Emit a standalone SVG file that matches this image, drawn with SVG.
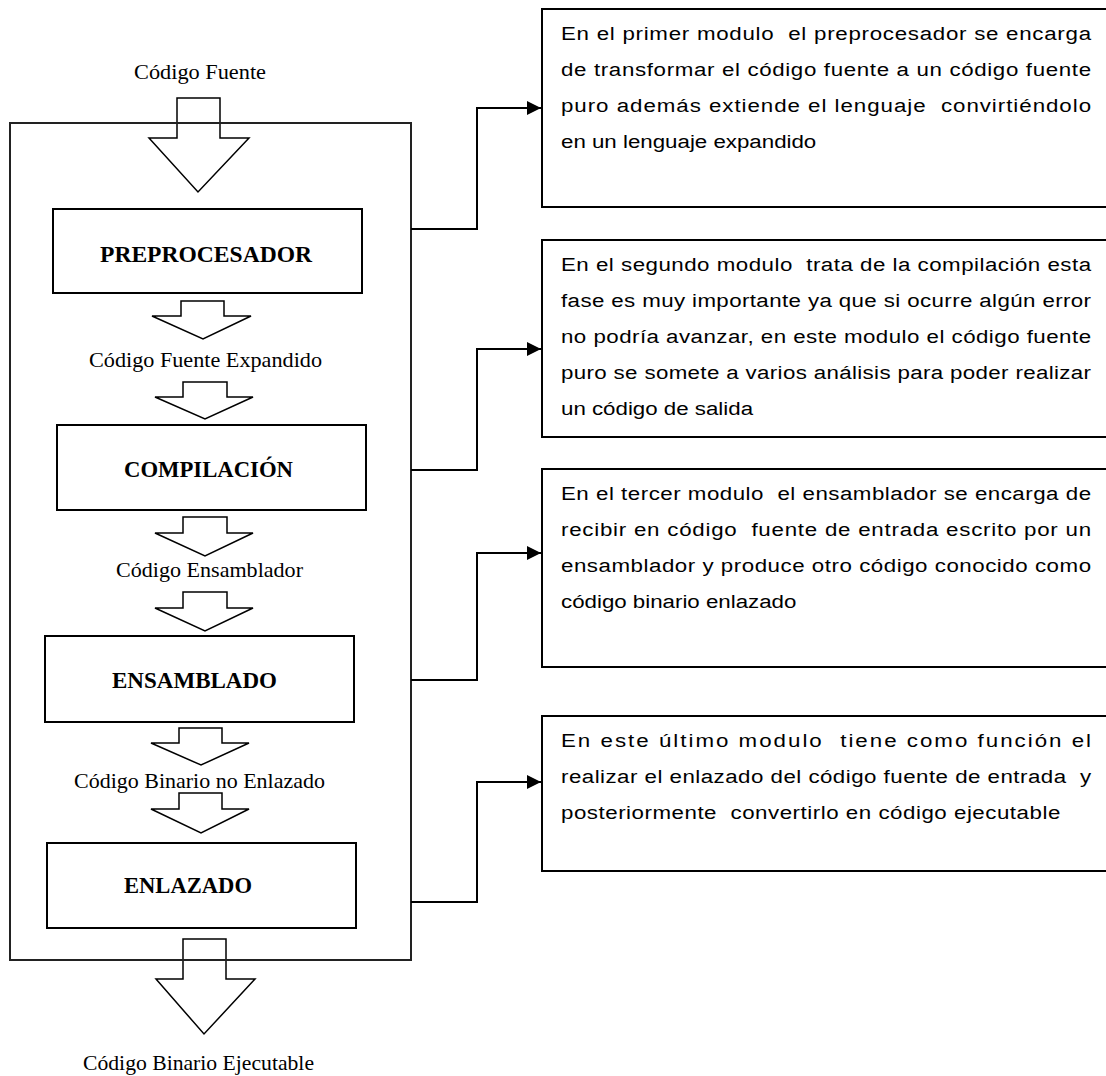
<svg xmlns="http://www.w3.org/2000/svg" width="1106" height="1076" viewBox="0 0 1106 1076">
<style>
.lbl{font-family:"Liberation Serif","Times New Roman",serif;font-size:22px;fill:#000}
.bold{font-family:"Liberation Serif","Times New Roman",serif;font-size:23px;font-weight:bold;fill:#000}
.desc{font-family:"Liberation Sans",Arial,sans-serif;font-size:18px;fill:#000;white-space:pre}
.blk{fill:#fff;stroke:#000;stroke-width:1.5}
.box{fill:#fff;stroke:#000;stroke-width:2}
.frame{fill:none;stroke:#222;stroke-width:2}
.conn{fill:none;stroke:#000;stroke-width:2}
</style>
<defs>
<marker id="ah" markerUnits="userSpaceOnUse" markerWidth="16" markerHeight="16" refX="14" refY="7" orient="auto">
<path d="M0,0 L14,7 L0,14 Z" fill="#000"/>
</marker>
</defs>
<rect width="1106" height="1076" fill="#fff"/>

<g id="block-arrows">
<polygon class="blk" points="177,98 220,98 220,138 249,138 198,192 149,138 177,138"/>
<polygon class="blk" points="181,301 224,301 224,316 251,316 203,339 152,316 181,316"/>
<polygon class="blk" points="183,382 227,382 227,397 253,397 205,419 155,397 183,397"/>
<polygon class="blk" points="183,517 227,517 227,533 253,533 205,556 155,533 183,533"/>
<polygon class="blk" points="183,592 227,592 227,608 253,608 205,631 155,608 183,608"/>
<polygon class="blk" points="179,728 222,728 222,743 249,743 201,765 151,743 179,743"/>
<polygon class="blk" points="179,793 222,793 222,809 249,809 201,833 151,809 179,809"/>
<polygon class="blk" points="183,939 226,939 226,979 255,979 204,1034 156,979 183,979"/>
</g>

<g id="frame">
<rect class="frame" x="10" y="123" width="401" height="837"/>
</g>

<g id="labels">
<text class="lbl" x="134" y="79" textLength="132" lengthAdjust="spacingAndGlyphs">Código Fuente</text>
<text class="lbl" x="89" y="367" textLength="233" lengthAdjust="spacingAndGlyphs">Código Fuente Expandido</text>
<text class="lbl" x="116" y="577" textLength="187" lengthAdjust="spacingAndGlyphs">Código Ensamblador</text>
<text class="lbl" x="74" y="788" textLength="251" lengthAdjust="spacingAndGlyphs">Código Binario no Enlazado</text>
<text class="lbl" x="83" y="1070" textLength="231" lengthAdjust="spacingAndGlyphs">Código Binario Ejecutable</text>
</g>

<g id="preprocesador">
<rect class="box" x="53" y="209" width="309" height="84"/>
<text class="bold" x="100" y="262" textLength="212" lengthAdjust="spacingAndGlyphs">PREPROCESADOR</text>
</g>
<g id="compilacion">
<rect class="box" x="57" y="425" width="309" height="85"/>
<text class="bold" x="124" y="477" textLength="169" lengthAdjust="spacingAndGlyphs">COMPILACIÓN</text>
</g>
<g id="ensamblado">
<rect class="box" x="45" y="636" width="309" height="86"/>
<text class="bold" x="112" y="688" textLength="165" lengthAdjust="spacingAndGlyphs">ENSAMBLADO</text>
</g>
<g id="enlazado">
<rect class="box" x="47" y="843" width="309" height="85"/>
<text class="bold" x="124" y="893" textLength="128" lengthAdjust="spacingAndGlyphs">ENLAZADO</text>
</g>

<g id="connectors">
<path class="conn" d="M411,229 H477 V108 H541" marker-end="url(#ah)"/>
<path class="conn" d="M411,470 H477 V349 H541" marker-end="url(#ah)"/>
<path class="conn" d="M411,680 H477 V553 H541" marker-end="url(#ah)"/>
<path class="conn" d="M411,902 H477 V782 H541" marker-end="url(#ah)"/>
</g>

<g id="desc1">
<rect class="box" x="542" y="9" width="580" height="198"/>
<g transform="translate(561 0) scale(1.239 1)">
<text class="desc" x="0" y="40" textLength="427.8" lengthAdjust="spacing">En el primer modulo  el preprocesador se encarga</text>
<text class="desc" x="0" y="76" textLength="427.8" lengthAdjust="spacing">de transformar el código fuente a un código fuente</text>
<text class="desc" x="0" y="112" textLength="427.8" lengthAdjust="spacing">puro además extiende el lenguaje  convirtiéndolo</text>
<text class="desc" x="0" y="148">en un lenguaje expandido</text>
</g>
</g>

<g id="desc2">
<rect class="box" x="542" y="240" width="580" height="197"/>
<g transform="translate(561 0) scale(1.239 1)">
<text class="desc" x="0" y="271" textLength="427.8" lengthAdjust="spacing">En el segundo modulo  trata de la compilación esta</text>
<text class="desc" x="0" y="307" textLength="427.8" lengthAdjust="spacing">fase es muy importante ya que si ocurre algún error</text>
<text class="desc" x="0" y="343" textLength="427.8" lengthAdjust="spacing">no podría avanzar, en este modulo el código fuente</text>
<text class="desc" x="0" y="379" textLength="427.8" lengthAdjust="spacing">puro se somete a varios análisis para poder realizar</text>
<text class="desc" x="0" y="415">un código de salida</text>
</g>
</g>

<g id="desc3">
<rect class="box" x="542" y="469" width="580" height="198"/>
<g transform="translate(561 0) scale(1.239 1)">
<text class="desc" x="0" y="500" textLength="427.8" lengthAdjust="spacing">En el tercer modulo  el ensamblador se encarga de</text>
<text class="desc" x="0" y="536" textLength="427.8" lengthAdjust="spacing">recibir en código  fuente de entrada escrito por un</text>
<text class="desc" x="0" y="572" textLength="427.8" lengthAdjust="spacing">ensamblador y produce otro código conocido como</text>
<text class="desc" x="0" y="608">código binario enlazado</text>
</g>
</g>

<g id="desc4">
<rect class="box" x="542" y="716" width="580" height="155"/>
<g transform="translate(561 0) scale(1.239 1)">
<text class="desc" x="0" y="747" textLength="427.8" lengthAdjust="spacing">En este último modulo  tiene como función el</text>
<text class="desc" x="0" y="783" textLength="427.8" lengthAdjust="spacing">realizar el enlazado del código fuente de entrada  y</text>
<text class="desc" x="0" y="819" textLength="403" lengthAdjust="spacing">posteriormente  convertirlo en código ejecutable</text>
</g>
</g>
</svg>
